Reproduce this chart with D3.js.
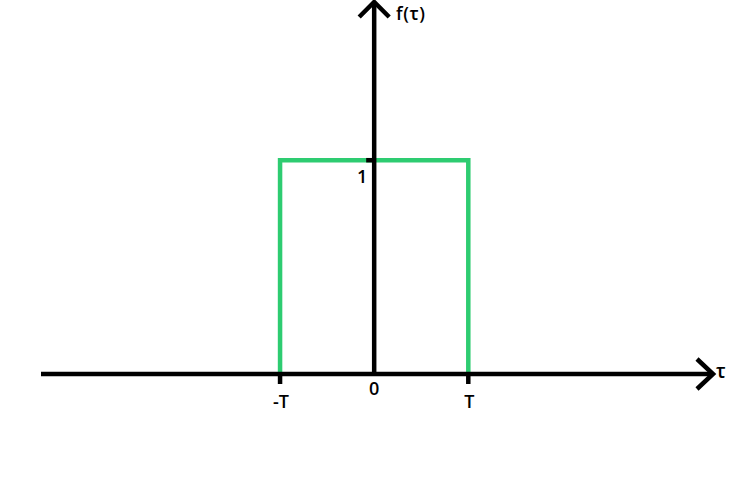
<!DOCTYPE html>
<html><head><meta charset="utf-8">
<script src="https://cdn.jsdelivr.net/npm/d3@7"></script>
<style>body{margin:0;background:#fff}</style>
</head><body>
<svg id="c" width="750" height="482"></svg>
<script>
const xTickValues = [-1, 0, 1];
const xTickLabels = ["-T", "0", "T"];
const yTickValues = [1];
const yTickLabels = ["1"];
const pulseX = [-1, -1, 1, 1];
const pulseY = [0, 1, 1, 0];
const xDomain = [-3.54, 3.6];
const yDomain = [0, 1.74];

const svg = d3.select("#c");
const x = d3.scaleLinear().domain(xDomain).range([41, 713]);
const y = d3.scaleLinear().domain(yDomain).range([374, 2]);
const font = "'Open Sans', sans-serif";
const fs = 18, fw = 600;

// pulse
const pts = pulseX.map((v, i) => [x(v), y(pulseY[i])]);
svg.append("path").attr("d", d3.line()(pts))
  .attr("fill", "none").attr("stroke", "#2ecc71").attr("stroke-width", 4.5);

// x axis
svg.append("line").attr("x1", x(xDomain[0])).attr("x2", x(xDomain[1]) - 2)
  .attr("y1", y(0)).attr("y2", y(0)).attr("stroke", "#000").attr("stroke-width", 4.5);
svg.append("path").attr("d", d3.line()([[x(xDomain[1]) - 16, y(0) - 15], [x(xDomain[1]), y(0)], [x(xDomain[1]) - 16, y(0) + 15]]))
  .attr("fill", "none").attr("stroke", "#000").attr("stroke-width", 4.5);

// y axis
svg.append("line").attr("x1", x(0)).attr("x2", x(0))
  .attr("y1", y(0)).attr("y2", y(yDomain[1]) + 2).attr("stroke", "#000").attr("stroke-width", 4.5);
svg.append("path").attr("d", d3.line()([[x(0) - 15, y(yDomain[1]) + 15], [x(0), y(yDomain[1])], [x(0) + 15, y(yDomain[1]) + 15]]))
  .attr("fill", "none").attr("stroke", "#000").attr("stroke-width", 4.5);

// x ticks
xTickValues.forEach((v, i) => {
  if (v !== 0) {
    svg.append("line").attr("x1", x(v)).attr("x2", x(v))
      .attr("y1", y(0)).attr("y2", y(0) + 10).attr("stroke", "#000").attr("stroke-width", 4.5);
  }
  svg.append("text").attr("x", x(v) + (v === 0 ? 0 : 1)).attr("y", v === 0 ? 395 : 408)
    .attr("text-anchor", "middle").attr("font-family", font).attr("font-size", fs).attr("font-weight", fw)
    .attr("fill", "#000").text(xTickLabels[i]);
});

// y ticks
yTickValues.forEach((v, i) => {
  svg.append("line").attr("x1", x(0) - 8).attr("x2", x(0))
    .attr("y1", y(v)).attr("y2", y(v)).attr("stroke", "#000").attr("stroke-width", 4.5);
  svg.append("text").attr("x", x(0) - 7).attr("y", y(v) + 23)
    .attr("text-anchor", "end").attr("font-family", font).attr("font-size", fs).attr("font-weight", fw)
    .attr("fill", "#000").text(yTickLabels[i]);
});

// axis labels
svg.append("text").attr("x", 396).attr("y", 20).attr("font-family", font).attr("font-size", 18).attr("font-weight", fw)
  .attr("fill", "#000").attr("textLength", 29).text("f(τ)");
svg.append("text").attr("x", 716).attr("y", 378).attr("font-family", font).attr("font-size", 19).attr("font-weight", fw)
  .attr("fill", "#000").text("τ");
</script>
</body></html>
